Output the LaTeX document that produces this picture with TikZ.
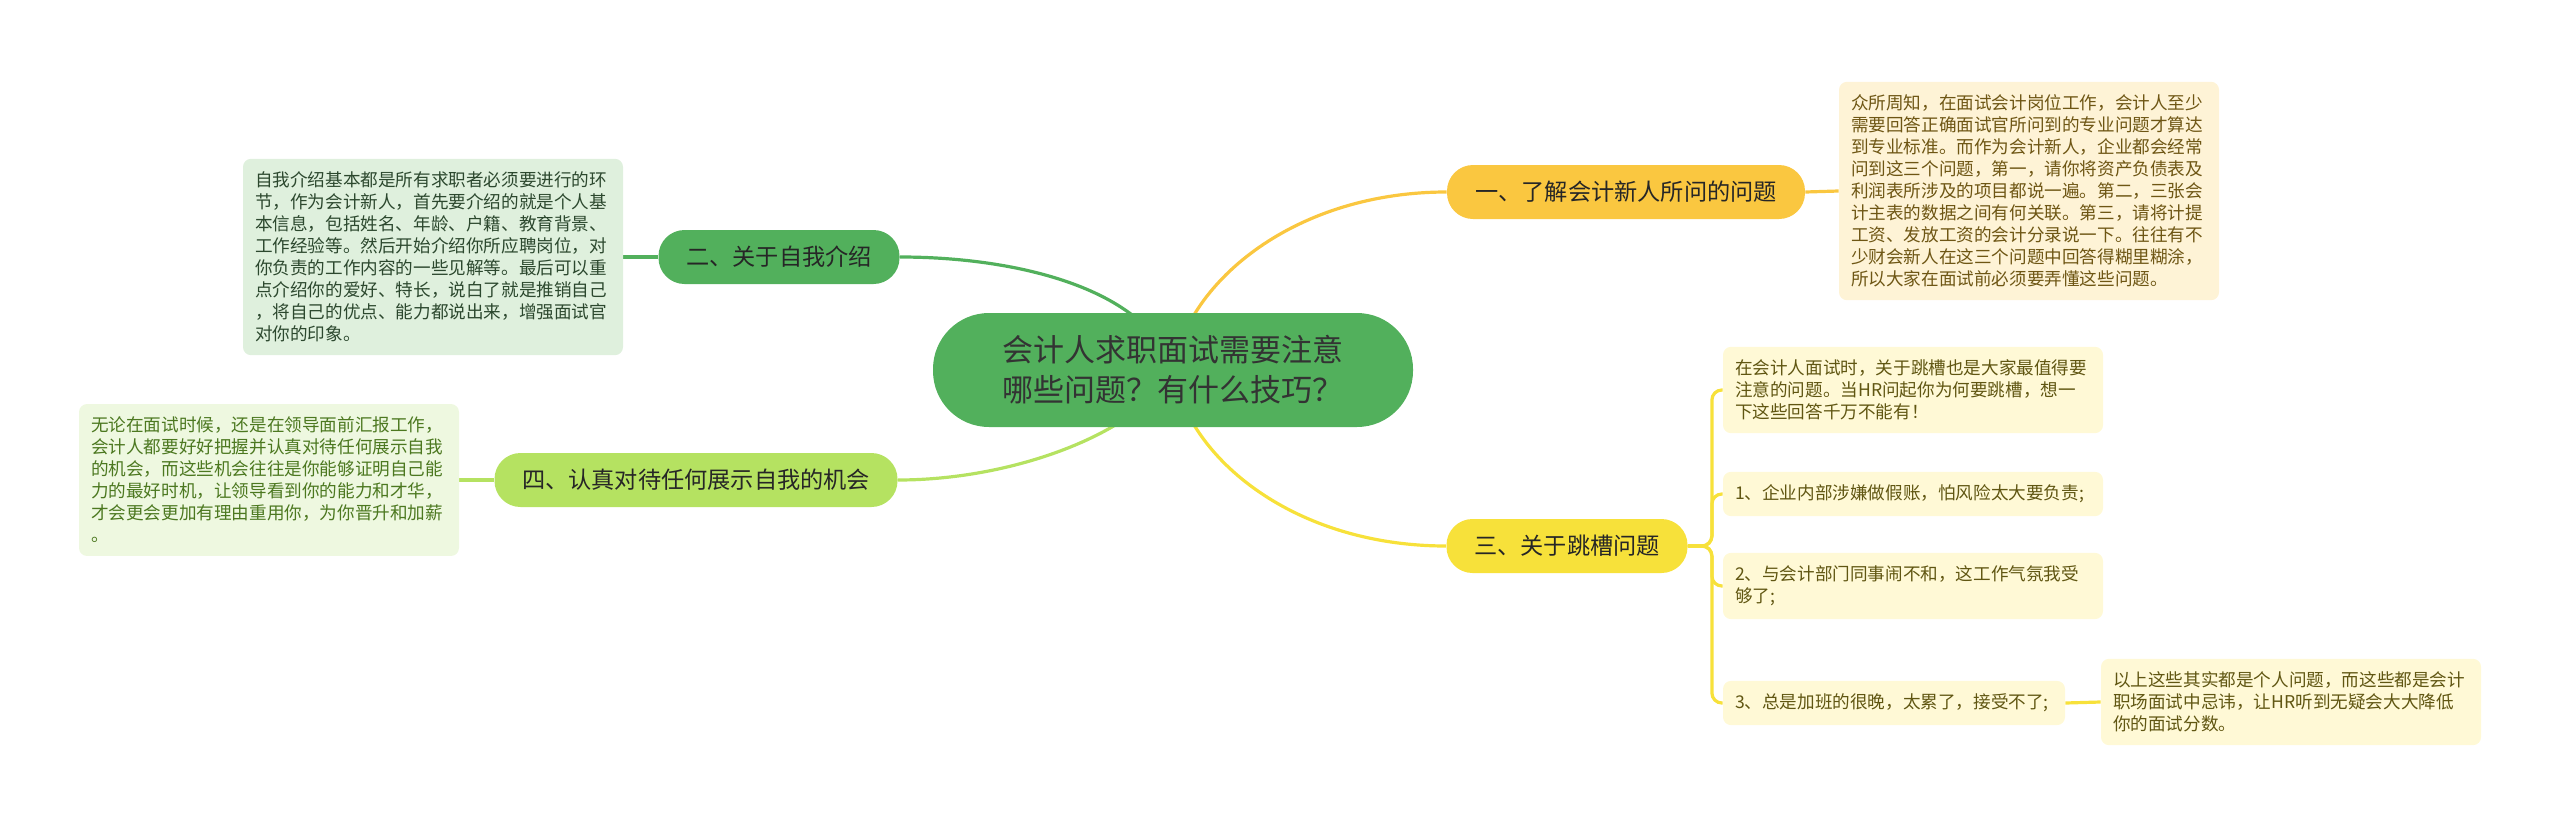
\documentclass[tikz,border=0pt]{standalone}
\usepackage{fontspec}
\setmainfont{Noto Sans CJK SC}
\usepackage{tikz}
\usetikzlibrary{backgrounds}

\definecolor{rootgreen}{RGB}{82,176,92}
\definecolor{leafgreen}{RGB}{181,226,97}
\definecolor{topicorange}{RGB}{250,199,64}
\definecolor{topicyellow}{RGB}{247,225,58}
\definecolor{creamfill}{RGB}{254,243,214}
\definecolor{creamtext}{RGB}{110,86,20}
\definecolor{mintfill}{RGB}{223,240,221}
\definecolor{minttext}{RGB}{44,72,46}
\definecolor{limefill}{RGB}{238,248,224}
\definecolor{limetext}{RGB}{76,120,32}
\definecolor{lemonfill}{RGB}{255,249,214}
\definecolor{lemontext}{RGB}{96,86,18}

\begin{document}
\begin{tikzpicture}[
  x=0.5pt,y=-0.5pt,
  line cap=round,line join=round,
  link/.style={line width=1.6pt},
  topic/.style={rounded corners=13pt,minimum height=27pt,inner sep=0pt,
    font=\fontsize{11.6}{14}\selectfont,text=black!85},
  memo/.style={rounded corners=4pt,inner xsep=6pt,inner ysep=6.5pt,
    text width=178pt,align=left,font=\fontsize{8.8}{11}\selectfont}
]
  \useasboundingbox (0,0) rectangle (2560,825);

  % Central topic
  \node[fill=rootgreen,rounded corners=28pt,minimum width=240pt,minimum height=57pt,
    align=left,font=\fontsize{15.5}{20}\selectfont,text=black!80] (root) at (1173,370)
    {会计人求职面试需要注意\\哪些问题？有什么技巧？};

  % Main branches
  \node[topic,fill=topicorange,minimum width=179pt] (b1) at (1626,192) {一、了解会计新人所问的问题};
  \node[topic,fill=rootgreen,minimum width=120.5pt] (b2) at (779,257) {二、关于自我介绍};
  \node[topic,fill=topicyellow,minimum width=120.5pt] (b3) at (1567,546) {三、关于跳槽问题};
  \node[topic,fill=leafgreen,minimum width=201.5pt] (b4) at (696,480) {四、认真对待任何展示自我的机会};

  % Detail notes
  \node[memo,fill=creamfill,text=creamtext] (n1) at (2029,191) {众所周知，在面试会计岗位工作，会计人至少\\需要回答正确面试官所问到的专业问题才算达\\到专业标准。而作为会计新人，企业都会经常\\问到这三个问题，第一，请你将资产负债表及\\利润表所涉及的项目都说一遍。第二，三张会\\计主表的数据之间有何关联。第三，请将计提\\工资、发放工资的会计分录说一下。往往有不\\少财会新人在这三个问题中回答得糊里糊涂，\\所以大家在面试前必须要弄懂这些问题。};
  \node[memo,fill=mintfill,text=minttext] (n2) at (433,257) {自我介绍基本都是所有求职者必须要进行的环\\节，作为会计新人，首先要介绍的就是个人基\\本信息，包括姓名、年龄、户籍、教育背景、\\工作经验等。然后开始介绍你所应聘岗位，对\\你负责的工作内容的一些见解等。最后可以重\\点介绍你的爱好、特长，说白了就是推销自己\\，将自己的优点、能力都说出来，增强面试官\\对你的印象。};
  \node[memo,fill=limefill,text=limetext] (n4) at (269,480) {无论在面试时候，还是在领导面前汇报工作，\\会计人都要好好把握并认真对待任何展示自我\\的机会，而这些机会往往是你能够证明自己能\\力的最好时机，让领导看到你的能力和才华，\\才会更会更加有理由重用你，为你晋升和加薪\\。};

  % Job-hopping items
  \node[memo,fill=lemonfill,text=lemontext] (s1) at (1913,390) {在会计人面试时，关于跳槽也是大家最值得要\\注意的问题。当HR问起你为何要跳槽，想一\\下这些回答千万不能有！};
  \node[memo,fill=lemonfill,text=lemontext] (s2) at (1913,494) {1、企业内部涉嫌做假账，怕风险太大要负责;};
  \node[memo,fill=lemonfill,text=lemontext] (s3) at (1913,586) {2、与会计部门同事闹不和，这工作气氛我受\\够了;};
  \node[memo,fill=lemonfill,text=lemontext,text width=159pt] (s4) at (1894,703) {3、总是加班的很晚，太累了，接受不了;};
  \node[memo,fill=lemonfill,text=lemontext] (s5) at (2291,702) {以上这些其实都是个人问题，而这些都是会计\\职场面试中忌讳，让HR听到无疑会大大降低\\你的面试分数。};

  \begin{scope}[on background layer]
    % Curved links from the centre
    \draw[link,rootgreen] (root.center) .. controls +(-25,-80) and +(120,0) .. (b2.east);
    \draw[link,topicorange] (root.center) .. controls +(15,-90) and +(-150,0) .. (b1.west);
    \draw[link,topicyellow] (root.center) .. controls +(15,90) and +(-150,0) .. (b3.west);
    \draw[link,leafgreen] (root.center) .. controls +(-30,60) and +(120,0) .. (b4.east);

    % Short links to the notes
    \draw[link,topicorange] (b1.east) -- (n1.west);
    \draw[link,rootgreen] (b2.west) -- (n2.east);
    \draw[link,leafgreen] (b4.west) -- (n4.east);
    \foreach \s in {s1,s2,s3,s4}
      \draw[link,topicyellow,rounded corners=5pt] (b3.east) -- ++(24,0) |- (\s.west);
    \draw[link,topicyellow] (s4.east) -- (s5.west);
  \end{scope}
\end{tikzpicture}
\end{document}
